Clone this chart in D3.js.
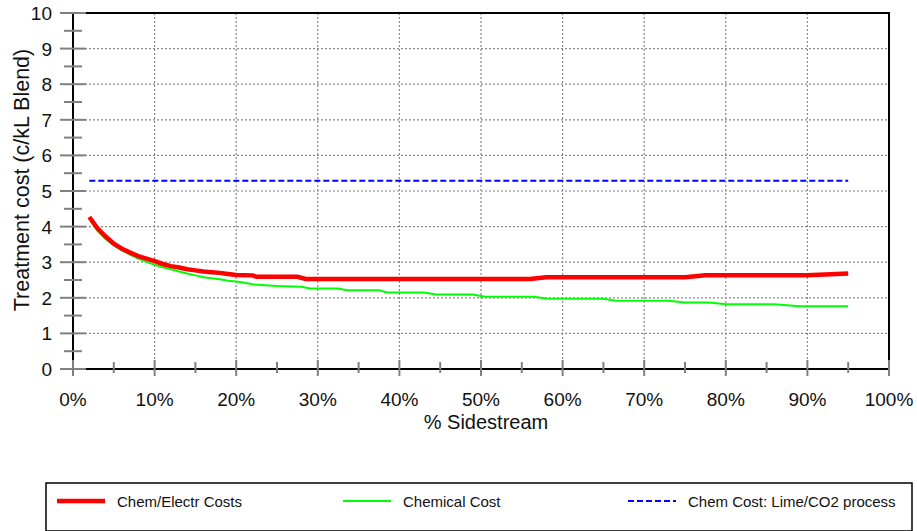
<!DOCTYPE html>
<html><head><meta charset="utf-8">
<script src="https://cdn.jsdelivr.net/npm/d3@7"></script>
<style>body{margin:0;background:#fff;}svg{display:block;font-family:"Liberation Sans",Arial,sans-serif;}</style>
</head><body>
<svg id="c" width="917" height="531"></svg>
<script>
const xTicks = [0,10,20,30,40,50,60,70,80,90,100];
const yTicks = [0,1,2,3,4,5,6,7,8,9,10];
const redX = [2,3,4,5,6,7,8,9,10,11,12,13,14,15,16,17,18,19,20,22,22.5,27.5,28.5,56,58,75,77.5,90,95];
const redY = [4.27,3.95,3.72,3.52,3.38,3.27,3.17,3.10,3.03,2.95,2.89,2.85,2.80,2.77,2.74,2.72,2.70,2.67,2.64,2.63,2.59,2.59,2.53,2.53,2.58,2.58,2.63,2.63,2.68];
const greenX = [2,3,4,5,6,7,8,9,10,11,12,13,14,15,16,17,18,19,20,21,22,25,28,29,32.5,33.5,37.5,38.5,43,44.5,49,50.5,56.5,58,65,66.5,73,75,78,80,86,89,95];
const greenY = [4.22,3.88,3.65,3.47,3.33,3.21,3.10,3.01,2.93,2.86,2.80,2.74,2.68,2.63,2.58,2.55,2.52,2.48,2.46,2.42,2.38,2.33,2.31,2.26,2.26,2.21,2.21,2.15,2.15,2.09,2.09,2.03,2.03,1.98,1.97,1.92,1.92,1.87,1.87,1.82,1.82,1.76,1.76];
const blueX = [2,95];
const blueY = [5.29,5.29];
const seriesNames = ["Chem/Electr Costs","Chemical Cost","Chem Cost: Lime/CO2 process"];

const svg = d3.select("#c");
const L=73, R=889, T=13, B=369;
const x = d3.scaleLinear().domain([0,100]).range([L,R]);
const y = d3.scaleLinear().domain([0,10]).range([B,T]);
const grid = svg.append("g");
xTicks.slice(1,-1).forEach(t=>grid.append("line").attr("x1",x(t)).attr("x2",x(t)).attr("y1",T).attr("y2",B).attr("stroke","#888").attr("stroke-width",1.2).attr("stroke-dasharray","2,2"));
yTicks.slice(1,-1).forEach(t=>grid.append("line").attr("x1",L).attr("x2",R).attr("y1",y(t)).attr("y2",y(t)).attr("stroke","#888").attr("stroke-width",1.2).attr("stroke-dasharray","2,2"));
// frame
svg.append("rect").attr("x",L).attr("y",T).attr("width",R-L).attr("height",B-T).attr("fill","none").attr("stroke","#000").attr("stroke-width",2);
// ticks
const tk = svg.append("g").attr("stroke","#808080").attr("stroke-width",2);
yTicks.forEach(t=>tk.append("line").attr("x1",L-13).attr("x2",L+13).attr("y1",y(t)).attr("y2",y(t)));
yTicks.slice(0,-1).forEach(t=>tk.append("line").attr("x1",L-9).attr("x2",L+9).attr("y1",y(t+0.5)).attr("y2",y(t+0.5)));
xTicks.forEach(t=>tk.append("line").attr("x1",x(t)).attr("x2",x(t)).attr("y1",B-9).attr("y2",B+7));
xTicks.slice(0,-1).forEach(t=>tk.append("line").attr("x1",x(t+5)).attr("x2",x(t+5)).attr("y1",B-7).attr("y2",B+4));
// labels
yTicks.forEach(t=>svg.append("text").attr("x",52).attr("y",y(t)+7).attr("text-anchor","end").attr("font-size",19).attr("fill","#111").text(t));
xTicks.forEach(t=>svg.append("text").attr("x",x(t)).attr("y",406).attr("text-anchor","middle").attr("font-size",19).attr("fill","#111").text(t+"%"));
svg.append("text").attr("x",486).attr("y",429).attr("text-anchor","middle").attr("font-size",20).attr("fill","#111").text("% Sidestream");
svg.append("text").attr("transform","translate(29,180) rotate(-90)").attr("text-anchor","middle").attr("font-size",21.5).attr("fill","#111").text("Treatment cost (c/kL Blend)");
// series
const line = d3.line().x(d=>x(d[0])).y(d=>y(d[1]));
svg.append("path").attr("d",line(blueX.map((v,i)=>[v,blueY[i]]))).attr("fill","none").attr("stroke","#0000ff").attr("stroke-width",2).attr("stroke-dasharray","6,3");
svg.append("path").attr("d",line(greenX.map((v,i)=>[v,greenY[i]]))).attr("fill","none").attr("stroke","#00ff00").attr("stroke-width",2);
svg.append("path").attr("d",line(redX.map((v,i)=>[v,redY[i]]))).attr("fill","none").attr("stroke","#ff0000").attr("stroke-width",4.5);
// legend
svg.append("rect").attr("x",46).attr("y",483).attr("width",866).attr("height",48).attr("fill","none").attr("stroke","#000").attr("stroke-width",1.5);
const leg = [{x:57,c:"#ff0000",w:4.5,d:null},{x:343,c:"#00ff00",w:2,d:null},{x:628,c:"#0000ff",w:2,d:"6,3"}];
leg.forEach((l,i)=>{
  svg.append("line").attr("x1",l.x).attr("x2",l.x+48).attr("y1",501).attr("y2",501).attr("stroke",l.c).attr("stroke-width",l.w).attr("stroke-dasharray",l.d);
  svg.append("text").attr("x",l.x+60).attr("y",507).attr("font-size",15).attr("fill","#111").text(seriesNames[i]);
});
</script>
</body></html>
